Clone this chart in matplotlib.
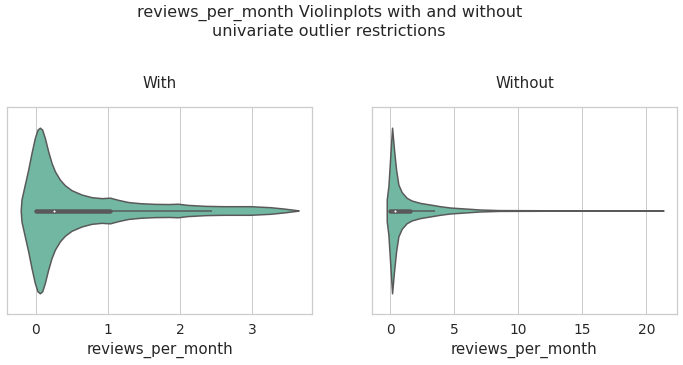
import matplotlib
matplotlib.use("Agg")
import matplotlib.pyplot as plt
import seaborn as sns

sns.set_theme(style="whitegrid", font_scale=1.25)
plt.rcParams['font.family'] = ['DejaVu Sans']

# ---- data ----
suptitle = "reviews_per_month Violinplots with and without\nunivariate outlier restrictions"
panel_titles = ["With", "Without"]
xlabel = "reviews_per_month"

# "With" panel: KDE support values and relative density (peak = 1)
with_vals = [-0.21, -0.199, -0.153, -0.106, -0.060, -0.014, 0.023, 0.056, 0.088, 0.125,
             0.171, 0.218, 0.264, 0.333, 0.403, 0.495, 0.634, 0.773, 0.912, 1.028,
             1.144, 1.282, 1.45, 1.65, 1.85, 1.97, 2.10, 2.35, 2.602, 2.972,
             3.25, 3.435, 3.62, 3.645]
with_dens = [0.0, 0.133, 0.313, 0.494, 0.695, 0.876, 0.976, 1.0, 0.976, 0.876,
             0.715, 0.574, 0.474, 0.373, 0.305, 0.245, 0.193, 0.161, 0.149, 0.155,
             0.128, 0.102, 0.088, 0.080, 0.078, 0.082, 0.068, 0.056, 0.052, 0.052,
             0.040, 0.024, 0.004, 0.0]
with_box = dict(q1=0.0, q3=1.03, median=0.25, wlo=0.0, whi=2.45)
with_ticks = [0, 1, 2, 3]
with_xlim = (-0.40, 3.83)

# "Without" panel
without_vals = [-0.26, -0.259, -0.13, 0.0, 0.156, 0.31, 0.47, 0.65, 0.91, 1.30,
                1.69, 2.34, 3.125, 3.9, 4.69, 5.47, 6.25, 7.0, 8.5, 12.0,
                16.0, 21.3, 21.35]
without_dens = [0.0, 0.133, 0.293, 0.614, 1.0, 0.735, 0.494, 0.313, 0.221, 0.153,
                0.120, 0.092, 0.072, 0.052, 0.036, 0.028, 0.020, 0.012, 0.005, 0.003,
                0.002, 0.001, 0.0]
without_box = dict(q1=0.0, q3=1.56, median=0.39, wlo=0.0, whi=3.52)
without_ticks = [0, 5, 10, 15, 20]
without_xlim = (-1.41, 22.4)

fill_color = (113/255, 183/255, 161/255)
gray = "#595959"

fig = plt.figure(figsize=(683/72, 365/72), dpi=72)
axes = [fig.add_axes([7/683, 1 - 314/365, 305/683, 207/365]),
        fig.add_axes([372/683, 1 - 314/365, 305/683, 207/365])]

panels = [(with_vals, with_dens, with_box, with_ticks, with_xlim),
          (without_vals, without_dens, without_box, without_ticks, without_xlim)]

for ax, title, (vals, dens, box, ticks, xlim) in zip(axes, panel_titles, panels):
    half = [0.4 * d for d in dens]
    lower = [-h for h in half]
    ax.fill_between(vals, lower, half, facecolor=fill_color, edgecolor=gray,
                    linewidth=1.5, zorder=1)
    ax.plot([box['wlo'], box['whi']], [0, 0], color=gray, lw=1.5,
            solid_capstyle='butt', zorder=2)
    ax.plot([box['q1'], box['q3']], [0, 0], color=gray, lw=4.5,
            solid_capstyle='round', zorder=2)
    ax.scatter([box['median']], [0], s=9, color='white', edgecolor=gray,
               linewidth=0.8, zorder=3)
    ax.set_xlim(*xlim)
    ax.set_ylim(0.5, -0.5)
    ax.set_yticks([])
    ax.set_xticks(ticks)
    ax.set_xticklabels([str(t) for t in ticks])
    ax.set_xlabel(xlabel, fontsize=15)
    ax.set_title(title, fontsize=15, pad=19)
    ax.grid(axis='y', visible=False)

fig.suptitle(suptitle, x=0.482, y=1 - 5/365, va='top', fontsize=16)
fig.savefig("out.png", dpi=72)
